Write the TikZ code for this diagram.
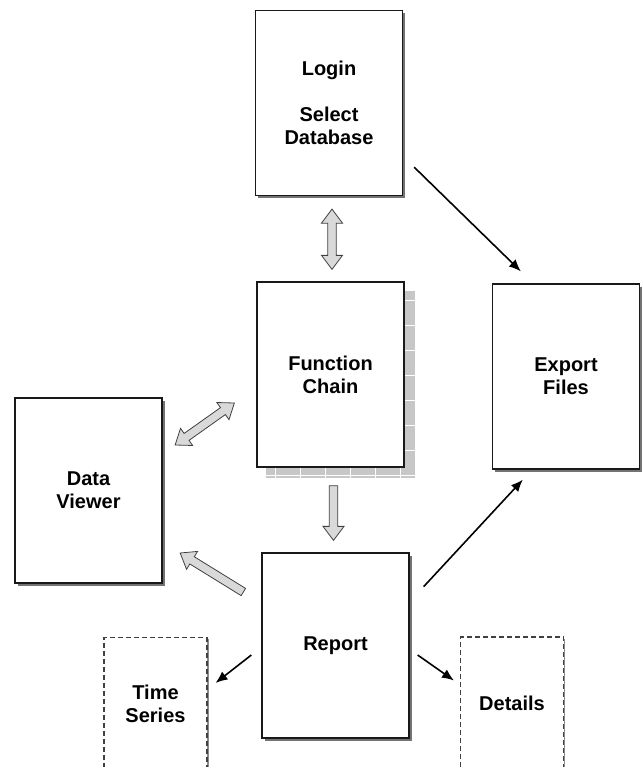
\documentclass[tikz,border=0pt]{standalone}
\usepackage{fontspec}
\setmainfont{Liberation Sans}
\usetikzlibrary{arrows.meta,positioning,calc,shadows,backgrounds}
\tikzset{
    >=Latex,
    plainbox/.style={draw=black!90, line width=1.3pt, fill=white, align=center, inner sep=0pt, minimum width=147pt, minimum height=185pt, font=\fontsize{20pt}{23pt}\selectfont\bfseries},
    box/.style={plainbox, drop shadow={shadow xshift=2.5pt, shadow yshift=-2.5pt, opacity=1, fill=black!55}},
    dashbox/.style={draw=black!75, line width=1.1pt, dash pattern=on 5pt off 3pt, fill=white, align=center, inner sep=0pt, minimum width=103pt, minimum height=133pt, font=\fontsize{20pt}{23pt}\selectfont\bfseries, drop shadow={shadow xshift=1.5pt, shadow yshift=-1.5pt, opacity=1, fill=black!45}},
    arrow/.style={-{Latex[length=12pt, width=10pt]}, line width=1.6pt, draw=black},
    fatarrow/.style={draw=black!75, line width=0.8pt, fill=black!15, to path={
        (\tikztostart) coordinate (fa-s) (\tikztotarget) coordinate (fa-t)
        ($(fa-t)!14pt!(fa-s)$) coordinate (fa-h)
        ($(fa-s)!4.25pt!90:(fa-t)$) -- ($(fa-h)!4.25pt!90:(fa-t)$) -- ($(fa-h)!10.5pt!90:(fa-t)$) -- (fa-t)
        -- ($(fa-h)!10.5pt!-90:(fa-t)$) -- ($(fa-h)!4.25pt!-90:(fa-t)$) -- ($(fa-s)!4.25pt!-90:(fa-t)$) -- cycle}},
    fatboth/.style={draw=black!75, line width=0.8pt, fill=black!15, to path={
        (\tikztostart) coordinate (fa-s) (\tikztotarget) coordinate (fa-t)
        ($(fa-t)!14pt!(fa-s)$) coordinate (fa-h) ($(fa-s)!14pt!(fa-t)$) coordinate (fa-g)
        (fa-s) -- ($(fa-g)!10.5pt!90:(fa-t)$) -- ($(fa-g)!4.25pt!90:(fa-t)$) -- ($(fa-h)!4.25pt!90:(fa-t)$) -- ($(fa-h)!10.5pt!90:(fa-t)$) -- (fa-t)
        -- ($(fa-h)!10.5pt!-90:(fa-t)$) -- ($(fa-h)!4.25pt!-90:(fa-t)$) -- ($(fa-g)!4.25pt!-90:(fa-t)$) -- ($(fa-g)!10.5pt!-90:(fa-t)$) -- cycle}}
}
\begin{document}
\begin{tikzpicture}[x=1pt, y=-1pt]
\useasboundingbox (0,0) rectangle (642,767);
\clip (0,0) rectangle (642,767);
\node[box] (login) at (329,103) {Login\\[23pt]Select\\Database};
\node[plainbox] (func) at (330.5,374.5) {Function\\Chain};
\node[box] (export) at (566,376.5) {Export\\Files};
\node[box] (viewer) at (88.5,490.5) {Data\\Viewer};
\node[box] (report) at (335.5,645.5) {Report};
\node[dashbox] (series) at (155.5,704) {Time\\Series};
\node[dashbox] (details) at (512,703.5) {Details};
% gridded shadow of the chain box
\begin{scope}[on background layer]
    \fill[black!22] ($(func.south west)+(10,10)$) rectangle ($(func.north east)+(10,10)$);
    \draw[white, line width=0.8pt, step=25pt] ($(func.south west)+(10,10)$) grid ($(func.north east)+(10,10)$);
\end{scope}
\draw[fatboth] ($(login.south)+(3,13)$) to ($(func.north)+(1.5,-12)$);
\draw[fatboth] ($(func.west)+(-22,28.5)$) to ($(viewer.east)+(12.5,-45.5)$);
\draw[fatarrow] ($(func.south)+(3,18)$) to ($(report.north)+(-2,-12)$);
\draw[fatarrow] ($(report.west)+(-18,-53.5)$) to ($(viewer.east)+(17.5,62.5)$);
\draw[arrow] ($(login.south east)+(11,-29)$) -- ($(export.north west)+(29,-12)$);
\draw[arrow] ($(report.south east)+(14,-152)$) -- ($(export.south west)+(31,10)$);
\draw[arrow] ($(report.west)+(-10,9.5)$) -- ($(series.north east)+(8,46)$);
\draw[arrow] ($(report.east)+(8,9.5)$) -- ($(details.west)+(-6,-23)$);
\end{tikzpicture}
\end{document}
